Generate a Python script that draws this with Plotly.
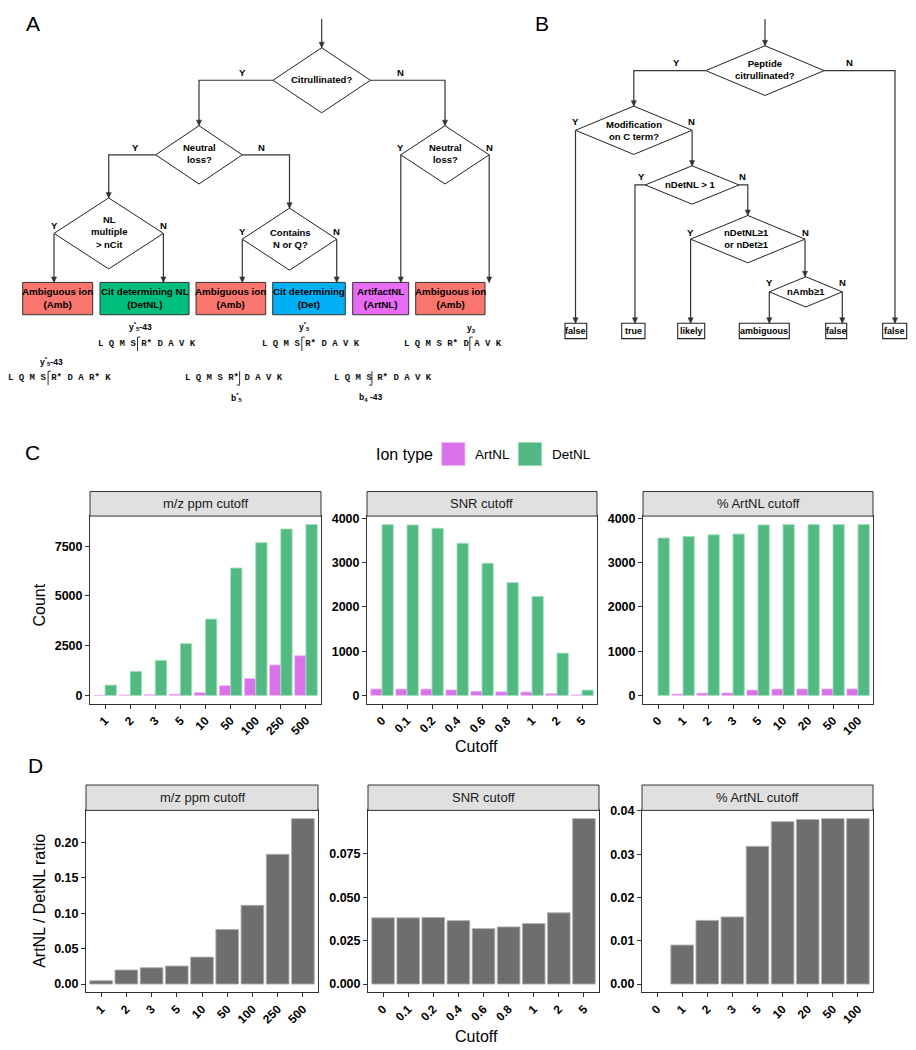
import plotly.graph_objects as go

W, H = 916, 1050
SANS = "Liberation Sans"
MONO = "Liberation Mono"

# ---------------- data ----------------
ppm_cutoffs = ["1", "2", "3", "5", "10", "50", "100", "250", "500"]
snr_cutoffs = ["0", "0.1", "0.2", "0.4", "0.6", "0.8", "1", "2", "5"]
pct_cutoffs = ["0", "1", "2", "3", "5", "10", "20", "50", "100"]

ppm_detnl = [520, 1207, 1760, 2600, 3838, 6403, 7680, 8365, 8586]
ppm_artnl = [3, 24, 40, 66, 146, 493, 852, 1532, 2000]
snr_detnl = [3858, 3850, 3775, 3435, 2985, 2548, 2237, 956, 120]
snr_artnl = [147, 146, 145, 126, 95, 84, 78, 39, 11]
pct_detnl = [3560, 3595, 3630, 3648, 3855, 3862, 3862, 3862, 3862]
pct_artnl = [0, 32, 54, 57, 123, 145, 147, 148, 148]

ratio_ppm = [0.0047, 0.0198, 0.0230, 0.0254, 0.0380, 0.0770, 0.1110, 0.1830, 0.2333]
ratio_snr = [0.0381, 0.0381, 0.0383, 0.0365, 0.0319, 0.0329, 0.0348, 0.0410, 0.0952]
ratio_pct = [0.0, 0.0090, 0.0147, 0.0155, 0.0318, 0.0375, 0.0380, 0.0382, 0.0382]

facet_titles = ["m/z ppm cutoff", "SNR cutoff", "% ArtNL cutoff"]
ion_types = ["ArtNL", "DetNL"]

# ---------------- helpers ----------------
LC = "#333333"
LW = 1.2
shapes, annotations = [], []


def fx(x):
    return x / W


def fy(y):
    return 1 - y / H


def pt(x, y):
    return f"{fx(x):.5f},{fy(y):.5f}"


def seg(points, color=LC, width=LW):
    path = "M " + " L ".join(pt(x, y) for x, y in points)
    shapes.append(dict(type="path", xref="paper", yref="paper", path=path,
                       line=dict(color=color, width=width), fillcolor="rgba(0,0,0,0)"))


def arrowhead(x, y):
    path = f"M {pt(x - 2.6, y - 5.5)} L {pt(x + 2.6, y - 5.5)} L {pt(x, y)} Z"
    shapes.append(dict(type="path", xref="paper", yref="paper", path=path,
                       line=dict(color=LC, width=0.5), fillcolor=LC))


def arrow(points):
    seg(points)
    arrowhead(*points[-1])


def diamond(cx, cy, hw, hh):
    path = (f"M {pt(cx, cy - hh)} L {pt(cx + hw, cy)} L {pt(cx, cy + hh)} "
            f"L {pt(cx - hw, cy)} Z")
    shapes.append(dict(type="path", xref="paper", yref="paper", path=path,
                       line=dict(color="#222222", width=1), fillcolor="white"))


def rect(x0, y0, x1, y1, fill, lc="#333333", lw=1):
    shapes.append(dict(type="rect", xref="paper", yref="paper",
                       x0=fx(x0), x1=fx(x1), y0=fy(y1), y1=fy(y0),
                       line=dict(color=lc, width=lw), fillcolor=fill, layer="above"))


def txt(x, y, s, size=9.5, bold=True, family=SANS, color="black",
        xanchor="center", yanchor="middle", angle=0):
    annotations.append(dict(x=fx(x), y=fy(y), xref="paper", yref="paper", text=s,
                            showarrow=False, xanchor=xanchor, yanchor=yanchor,
                            textangle=angle, borderpad=0,
                            font=dict(family=family, size=size, color=color,
                                      weight=700 if bold else 400)))


# ---------------- panel A flowchart ----------------
txt(32.7, 17.5, "A", size=21, bold=False)
arrow([(321.7, 13), (321.7, 42)])
diamond(321.7, 74.7, 48.7, 32.7)
txt(321.5, 74, "Citrullinated?")
arrow([(273.0, 74.7), (199, 74.7), (199, 120.3)])
arrow([(370.4, 74.7), (445, 74.7), (445, 120.3)])
txt(242.7, 67.3, "Y"); txt(400.7, 67.3, "N")

diamond(199, 149.7, 43.3, 29.3)
txt(199, 148.5, "Neutral<br>loss?")
arrow([(155.7, 149.7), (108.7, 149.7), (108.7, 193)])
arrow([(242.3, 149.7), (289.5, 149.7), (289.5, 203.3)])
txt(135.7, 142.3, "Y"); txt(261.7, 142.3, "N")

diamond(108.7, 228.7, 54.7, 35.7)
txt(108.7, 227, "NL<br>multiple<br>> nCit")
arrow([(54, 228.7), (54, 278)])
arrow([(163.4, 228.7), (163.4, 278)])
txt(54, 220.5, "Y"); txt(163.4, 220.5, "N")

diamond(289.5, 234.5, 47.2, 31.2)
txt(290, 233.5, "Contains<br>N or Q?")
arrow([(242.3, 234.5), (242.3, 278)])
arrow([(336.7, 234.5), (336.7, 278)])
txt(242.3, 226.7, "Y"); txt(336.7, 226.7, "N")

diamond(445, 149.7, 44.2, 29.3)
txt(445, 148.5, "Neutral<br>loss?")
arrow([(400.8, 149.7), (400.8, 278)])
arrow([(489.2, 149.7), (489.2, 278)])
txt(400.8, 142.3, "Y"); txt(489.2, 142.3, "N")

AMB, DETNL, DET, ARTNL = "#F8766D", "#00BF7D", "#00B0F6", "#E76BF3"
a_boxes = [
    (22.7, 92.7, AMB, "Ambiguous ion<br>(Amb)"),
    (100, 189, DETNL, "Cit determining NL<br>(DetNL)"),
    (196, 265.7, AMB, "Ambiguous ion<br>(Amb)"),
    (272.7, 345.3, DET, "Cit determining<br>(Det)"),
    (352.7, 408.7, ARTNL, "ArtifactNL<br>(ArtNL)"),
    (415.7, 485, AMB, "Ambiguous ion<br>(Amb)"),
]
for x0, x1, col, label in a_boxes:
    rect(x0, 278, x1, 310.5, col)
    txt((x0 + x1) / 2, 294, label, size=9.8)

# peptide sequences with fragment brackets
CW = 5.37  # monospace char width
seqs = [
    (96.7, 340, "L Q M S R* D A V K", 7.6, "top", "y<sup>*</sup><sub>5</sub>-43", 140, 322.7),
    (261.0, 340, "L Q M S R* D A V K", 7.6, "top", "y<sup>*</sup><sub>5</sub>", 304, 322.7),
    (402.7, 340, "L Q M S R* D A V K", 12.5, "top", "y<sub>3</sub>", 471, 324.5),
    (7.3, 374.3, "L Q M S R* D A R* K", 7.6, "top", "y<sup>*</sup><sub>5</sub>-43", 51.7, 357.7),
    (184.3, 374.3, "L Q M S R* D A V K", 10.3, "bot", "b<sup>*</sup><sub>5</sub>", 237, 393.3),
    (332.7, 374.3, "L Q M S R* D A V K", 7.3, "bot", "b<sub>4</sub> -43", 370, 393.3),
]
for x0, yc, s, idx, kind, lab, lx, ly in seqs:
    txt(x0, yc, s, size=9, bold=True, family=MONO, color="#111111", xanchor="left")
    bx = x0 + idx * CW
    if kind == "top":
        seg([(bx + 3, yc - 7), (bx, yc - 7), (bx, yc + 7)], width=1)
    else:
        seg([(bx, yc - 7), (bx, yc + 7), (bx - 3, yc + 7)], width=1)
    txt(lx, ly, lab, size=8.5)

# ---------------- panel B flowchart ----------------
txt(541.7, 18, "B", size=21, bold=False)
arrow([(765, 13), (765, 40)])
diamond(765, 65, 59.2, 25)
txt(765, 64, "Peptide<br>citrullinated?")
arrow([(705.8, 65), (633.8, 65), (633.8, 100.7)])
arrow([(824.2, 65), (895, 65), (895, 319)])
txt(676, 57.3, "Y"); txt(849, 57.3, "N")

diamond(633.8, 125, 58.3, 24.3)
txt(633.5, 125, "Modification<br>on C term?")
arrow([(575.5, 125), (575.5, 319)])
arrow([(692.1, 125), (692.1, 161)])
txt(575, 116.5, "Y"); txt(691, 116.5, "N")

diamond(692.1, 180, 46.9, 19.3)
txt(690, 180, "nDetNL > 1")
arrow([(645.2, 180), (635, 180), (635, 319)])
arrow([(739.0, 180), (747.8, 180), (747.8, 210.7)])
txt(641.7, 171.7, "Y"); txt(742.7, 171.7, "N")

diamond(747.8, 234.5, 57.2, 23.8)
txt(746.5, 233.7, "nDetNL≥1<br>or nDet≥1")
arrow([(690.6, 234.5), (690.6, 319)])
arrow([(805, 234.5), (805, 272.3)])
txt(690, 227.5, "Y"); txt(805, 227.5, "N")

diamond(805.8, 287.5, 36.5, 15.2)
txt(805.5, 286.7, "nAmb≥1")
arrow([(769.3, 287.5), (769.3, 319)])
arrow([(842.3, 287.5), (842.3, 319)])
txt(769, 278.3, "Y"); txt(842.3, 278.3, "N")

b_boxes = [(565, 586.7, "false"), (621.7, 645, "true"), (677.7, 704.7, "likely"),
           (739.3, 789.3, "ambiguous"), (825.7, 846.7, "false"), (882.7, 906.7, "false")]
for x0, x1, label in b_boxes:
    rect(x0, 319, x1, 334.5, "white", lc="#222222", lw=1.1)
    txt((x0 + x1) / 2, 326.7, label, size=9)

# ---------------- panels C and D (faceted bars) ----------------
txt(32, 449, "C", size=21, bold=False)
txt(35, 764, "D", size=21, bold=False)

GREEN, PINK, GREY = "#52B983", "#D972E8", "#6E6E6E"
GREEN_EDGE, PINK_EDGE, GREY_EDGE = "rgba(160,222,186,0.9)", "rgba(240,190,246,0.9)", "rgba(175,175,175,0.9)"

C_Y = (513, 702)
D_Y = (809, 992)
C_X = [(90, 321), (367, 597), (643, 873)]
D_X = [(86, 318), (368, 599), (642, 873)]

cats = [ppm_cutoffs, snr_cutoffs, pct_cutoffs]
c_art = [ppm_artnl, snr_artnl, pct_artnl]
c_det = [ppm_detnl, snr_detnl, pct_detnl]
d_ratio = [ratio_ppm, ratio_snr, ratio_pct]
c_dtick = [2500, 1000, 1000]
d_dtick = [0.05, 0.025, 0.01]
d_fmt = [".2f", ".3f", ".2f"]


def yrange(vals):
    lo = min(0, min(vals))
    hi = max(vals)
    span = hi - lo
    return [lo - 0.05 * span, hi + 0.05 * span]


def edge_widths(vals):
    return [1 if v > 0 else 0 for v in vals]


fig = go.Figure()
layout_axes = {}
tickfont_x = dict(family=SANS, size=12, color="black", weight=700)
tickfont_y = dict(family=SANS, size=12.5, color="black", weight=700)
axis_common = dict(showline=True, mirror=True, linecolor="#333333", linewidth=1,
                   ticks="outside", ticklen=4, tickwidth=1, tickcolor="#333333",
                   showgrid=False, zeroline=False)

for i in range(3):
    # C facet
    n = i + 1
    xa, ya = f"x{n}", f"y{n}"
    fig.add_trace(go.Bar(x=cats[i], y=c_art[i], name=ion_types[0], xaxis=xa, yaxis=ya,
                         marker=dict(color=PINK, line=dict(color=PINK_EDGE, width=edge_widths(c_art[i]))),
                         showlegend=False))
    fig.add_trace(go.Bar(x=cats[i], y=c_det[i], name=ion_types[1], xaxis=xa, yaxis=ya,
                         marker=dict(color=GREEN, line=dict(color=GREEN_EDGE, width=edge_widths(c_det[i]))),
                         showlegend=False))
    layout_axes[f"xaxis{n}"] = dict(axis_common, domain=[fx(C_X[i][0]), fx(C_X[i][1])],
                                    anchor=ya, type="category", categoryorder="array",
                                    categoryarray=cats[i], range=[-0.6, 8.6],
                                    tickangle=-45, tickfont=tickfont_x)
    layout_axes[f"yaxis{n}"] = dict(axis_common, domain=[fy(C_Y[1]), fy(C_Y[0])],
                                    anchor=xa, range=yrange(c_det[i] + c_art[i]),
                                    tick0=0, dtick=c_dtick[i], tickformat="d",
                                    tickfont=tickfont_y)
    rect(C_X[i][0], 488.3, C_X[i][1], 513, "#E0E0E0")
    txt((C_X[i][0] + C_X[i][1]) / 2, 500.8, facet_titles[i], size=13, bold=False,
        color="#1A1A1A")

    # D facet
    m = i + 4
    xa, ya = f"x{m}", f"y{m}"
    fig.add_trace(go.Bar(x=cats[i], y=d_ratio[i], xaxis=xa, yaxis=ya,
                         marker=dict(color=GREY, line=dict(color=GREY_EDGE, width=edge_widths(d_ratio[i]))),
                         showlegend=False, name="ArtNL / DetNL ratio"))
    layout_axes[f"xaxis{m}"] = dict(axis_common, domain=[fx(D_X[i][0]), fx(D_X[i][1])],
                                    anchor=ya, type="category", categoryorder="array",
                                    categoryarray=cats[i], range=[-0.6, 8.6],
                                    tickangle=-45, tickfont=tickfont_x)
    layout_axes[f"yaxis{m}"] = dict(axis_common, domain=[fy(D_Y[1]), fy(D_Y[0])],
                                    anchor=xa, range=yrange(d_ratio[i]),
                                    tick0=0, dtick=d_dtick[i], tickformat=d_fmt[i],
                                    tickfont=tickfont_y)
    rect(D_X[i][0], 783.5, D_X[i][1], 809, "#E0E0E0")
    txt((D_X[i][0] + D_X[i][1]) / 2, 796.2, facet_titles[i], size=13, bold=False,
        color="#1A1A1A")

# axis titles
txt(40, 603, "Count", size=16, bold=False, angle=-90)
txt(477, 745, "Cutoff", size=16, bold=False)
txt(40, 900, "ArtNL / DetNL ratio", size=16, bold=False, angle=-90)
txt(477, 1036, "Cutoff", size=16, bold=False)

# legend (drawn manually to match the ggplot guide)
txt(375, 451.5, "Ion type", size=16, bold=False, xanchor="left")
rect(441.7, 439, 465, 462.3, PINK, lc=PINK_EDGE)
txt(474, 451.5, ion_types[0], size=13.5, bold=False, xanchor="left")
rect(518.3, 439, 541.7, 462.3, GREEN, lc=GREEN_EDGE)
txt(550.7, 451.5, ion_types[1], size=13.5, bold=False, xanchor="left")

fig.update_layout(
    width=W, height=H, autosize=False,
    margin=dict(l=0, r=0, t=0, b=0),
    paper_bgcolor="white", plot_bgcolor="white",
    barmode="group", bargap=0.1, bargroupgap=0,
    showlegend=False,
    shapes=shapes, annotations=annotations,
    font=dict(family=SANS, color="black"),
    **layout_axes,
)

fig.write_html("out.html",
               config={"displayModeBar": False},
               post_script="document.body.style.margin='0';document.body.style.overflow='hidden';")
